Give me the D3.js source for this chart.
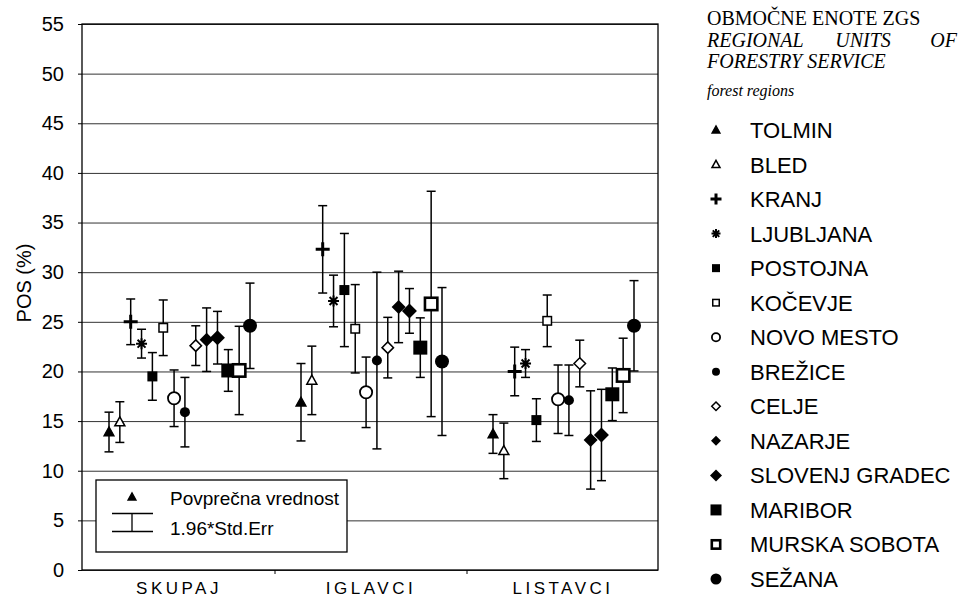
<!DOCTYPE html>
<html><head><meta charset="utf-8">
<script src="https://cdn.jsdelivr.net/npm/d3@7"></script>
<style>
html,body{margin:0;padding:0;background:#fff;}
svg{display:block;}
</style></head>
<body>
<svg id="chart" width="961" height="598" font-family="Liberation Sans, Arial, sans-serif"></svg>
<script>
// ---- data ----
const categories = ["SKUPAJ", "IGLAVCI", "LISTAVCI"];
const regions = ["TOLMIN","BLED","KRANJ","LJUBLJANA","POSTOJNA","KOČEVJE","NOVO MESTO","BREŽICE","CELJE","NAZARJE","SLOVENJ GRADEC","MARIBOR","MURSKA SOBOTA","SEŽANA"];
const meanSkupaj   = [13.9,14.9,25.0,22.8,19.5,24.4,17.3,15.9,22.6,23.2,23.4,20.1,20.1,24.6];
const errSkupaj    = [2.0,2.05,2.3,1.45,2.4,2.8,2.85,3.5,2.0,3.2,2.65,2.1,4.45,4.3];
const meanIglavci  = [16.9,19.1,32.3,27.1,28.2,24.3,17.9,21.1,22.4,26.5,26.1,22.4,26.8,21.0];
const errIglavci   = [3.9,3.45,4.4,2.6,5.7,4.45,3.55,8.9,3.05,3.6,2.25,3.0,11.35,7.45];
const meanListavci = [13.7,12.0,20.0,20.8,15.1,25.1,17.2,17.1,20.8,13.1,13.6,17.7,19.6,24.6];
const errListavci  = [1.95,2.8,2.45,1.4,2.15,2.6,3.45,3.55,2.35,4.95,4.6,2.65,3.75,4.55];
const yTicks = [0,5,10,15,20,25,30,35,40,45,50,55];
const yLabel = "POS (%)";
const legendTitle1 = "OBMOČNE ENOTE ZGS";
const legendTitle2 = ["REGIONAL", "UNITS", "OF"];
const legendTitle3 = "FORESTRY SERVICE";
const legendTitle4 = "forest regions";
const boxLabels = ["Povprečna vrednost", "1.96*Std.Err"];

// marker styles per region (shape, filled, size in chart, size in legend, stroke)
const markerStyles = [
  {shape:"tri", fill:true,  s:10, ls:8,  sw:1.3},
  {shape:"tri", fill:false, s:10, ls:8,  sw:1.5},
  {shape:"plus",fill:true,  s:14, ls:11, sw:3},
  {shape:"star",fill:true,  s:11, ls:9,  sw:2},
  {shape:"sq",  fill:true,  s:10, ls:8,  sw:1},
  {shape:"sq",  fill:false, s:10, ls:8,  sw:1.5},
  {shape:"circ",fill:false, s:14, ls:10, sw:1.8},
  {shape:"circ",fill:true,  s:10, ls:8,  sw:1},
  {shape:"dia", fill:false, s:13, ls:10, sw:1.5},
  {shape:"dia", fill:true,  s:14, ls:10, sw:1},
  {shape:"dia", fill:true,  s:15, ls:12, sw:1},
  {shape:"sq",  fill:true,  s:14, ls:11, sw:1},
  {shape:"sq",  fill:false, s:15, ls:11, sw:2.6},
  {shape:"circ",fill:true,  s:14, ls:11, sw:1}
];

const series = [
  {cat: categories[0], mean: meanSkupaj,   err: errSkupaj},
  {cat: categories[1], mean: meanIglavci,  err: errIglavci},
  {cat: categories[2], mean: meanListavci, err: errListavci}
];

// ---- layout ----
const L = 82, R = 658, T = 24, B = 570;
const svg = d3.select("#chart");

const y = d3.scaleLinear().domain([0,55]).range([B,T]);
const x = d3.scaleBand().domain(categories).range([L+1, R+1]);
const xi = d3.scalePoint().domain(regions).range([-70, 71]);

// gridlines
svg.append("g").attr("transform",`translate(${L},0)`)
  .call(d3.axisLeft(y).tickValues(yTicks).tickSize(-(R-L)).tickFormat(""))
  .call(g=>g.select(".domain").remove())
  .call(g=>g.selectAll("line").attr("stroke","#333").attr("stroke-width",1));

// y axis with labels
svg.append("g").attr("transform",`translate(${L},0)`)
  .call(d3.axisLeft(y).tickValues(yTicks).tickSize(4).tickPadding(14))
  .call(g=>g.select(".domain").remove())
  .call(g=>g.selectAll("line").attr("stroke","#000"))
  .call(g=>g.selectAll("text").attr("font-size",20).attr("font-family","Liberation Sans, Arial, sans-serif").attr("fill","#000"));

// plot frame
svg.append("rect").attr("x",L).attr("y",T).attr("width",R-L).attr("height",B-T)
  .attr("fill","none").attr("stroke","#000").attr("stroke-width",1.3);

// category boundary ticks
svg.append("g").selectAll("line").data(categories.slice(1)).join("line")
  .attr("x1",d=>x(d)).attr("x2",d=>x(d)).attr("y1",B).attr("y2",B+4)
  .attr("stroke","#000");

// category labels
svg.append("g").selectAll("text").data(categories).join("text")
  .attr("x",d=>x(d)+x.bandwidth()/2).attr("y",594)
  .attr("text-anchor","middle").attr("font-size",17).attr("letter-spacing",3.5)
  .text(d=>d);

// y label
svg.append("text").attr("transform","translate(31,283) rotate(-90)")
  .attr("text-anchor","middle").attr("font-size",20).text(yLabel);

// marker drawing
function drawMarker(g, st, size){
  const s = size, h = s/2;
  if(st.shape==="tri"){
    g.append("path").attr("d",`M0,${-h*1.05}L${h},${h*0.75}L${-h},${h*0.75}Z`)
      .attr("fill",st.fill?"#000":"#fff").attr("stroke","#000").attr("stroke-width",st.sw).attr("stroke-linejoin","miter");
  } else if(st.shape==="plus"){
    g.append("path").attr("d",`M${-h},0H${h}M0,${-h}V${h}`).attr("stroke","#000").attr("stroke-width",st.sw).attr("fill","none");
  } else if(st.shape==="star"){
    const d = h*0.72;
    g.append("path").attr("d",`M${-h},0H${h}M0,${-h}V${h}M${-d},${-d}L${d},${d}M${-d},${d}L${d},${-d}`)
      .attr("stroke","#000").attr("stroke-width",st.sw).attr("fill","none");
  } else if(st.shape==="sq"){
    const a = s - (st.fill?0:st.sw);
    g.append("rect").attr("x",-a/2).attr("y",-a/2).attr("width",a).attr("height",a)
      .attr("fill",st.fill?"#000":"#fff").attr("stroke","#000").attr("stroke-width",st.fill?0:st.sw);
  } else if(st.shape==="circ"){
    g.append("circle").attr("r",(s-(st.fill?0:st.sw))/2)
      .attr("fill",st.fill?"#000":"#fff").attr("stroke","#000").attr("stroke-width",st.fill?0:st.sw);
  } else if(st.shape==="dia"){
    const a = h - (st.fill?0:st.sw/2);
    g.append("path").attr("d",`M0,${-a}L${a},0L0,${a}L${-a},0Z`)
      .attr("fill",st.fill?"#000":"#fff").attr("stroke","#000").attr("stroke-width",st.fill?0:st.sw);
  }
}

// error bars + markers
const capW = 9;
series.forEach(sr=>{
  const g = svg.append("g");
  regions.forEach((r,i)=>{
    const cx = x(sr.cat) + x.bandwidth()/2 + xi(r);
    const m = sr.mean[i], e = sr.err[i];
    const eg = g.append("g").attr("stroke","#000").attr("stroke-width",1.5);
    eg.append("line").attr("x1",cx).attr("x2",cx).attr("y1",y(m+e)).attr("y2",y(m-e));
    eg.append("line").attr("x1",cx-capW/2).attr("x2",cx+capW/2).attr("y1",y(m+e)).attr("y2",y(m+e));
    eg.append("line").attr("x1",cx-capW/2).attr("x2",cx+capW/2).attr("y1",y(m-e)).attr("y2",y(m-e));
  });
  regions.forEach((r,i)=>{
    const cx = x(sr.cat) + x.bandwidth()/2 + xi(r);
    const mg = g.append("g").attr("transform",`translate(${cx},${y(sr.mean[i])})`);
    drawMarker(mg, markerStyles[i], markerStyles[i].s);
  });
});

// inner legend box
const box = svg.append("g");
box.append("rect").attr("x",96).attr("y",480).attr("width",251).attr("height",72)
  .attr("fill","#fff").attr("stroke","#000").attr("stroke-width",1.3);
drawMarker(box.append("g").attr("transform","translate(132,497)"), markerStyles[0], 8);
box.append("path").attr("d","M112,513.5H153M132,513.5V531.5M112,531.5H153")
  .attr("stroke","#000").attr("stroke-width",1.3).attr("fill","none");
box.append("text").attr("x",170).attr("y",505).attr("font-size",19).text(boxLabels[0]);
box.append("text").attr("x",170).attr("y",535).attr("font-size",19).text(boxLabels[1]);

// right legend
const lg = svg.append("g");
const serif = "Liberation Serif, Times New Roman, serif";
function stext(xp, yp, t, italic, size, anchor){
  return lg.append("text").attr("x",xp).attr("y",yp)
    .style("font-family",serif).style("font-style",italic?"italic":"normal")
    .attr("font-size",size).attr("text-anchor",anchor||"start").text(t);
}
stext(707,25,legendTitle1,false,20);
stext(707,47,legendTitle2[0],true,20);
stext(863,47,legendTitle2[1],true,20,"middle");
stext(957,47,legendTitle2[2],true,20,"end");
stext(707,68,legendTitle3,true,20);
stext(707,96,legendTitle4,true,16);

const ly = d3.scalePoint().domain(regions).range([130, 579]);
regions.forEach((r,i)=>{
  drawMarker(lg.append("g").attr("transform",`translate(716,${ly(r)})`), markerStyles[i], markerStyles[i].ls);
  lg.append("text").attr("x",750).attr("y",ly(r)+8).attr("font-size",22).text(r);
});
</script>
</body></html>
